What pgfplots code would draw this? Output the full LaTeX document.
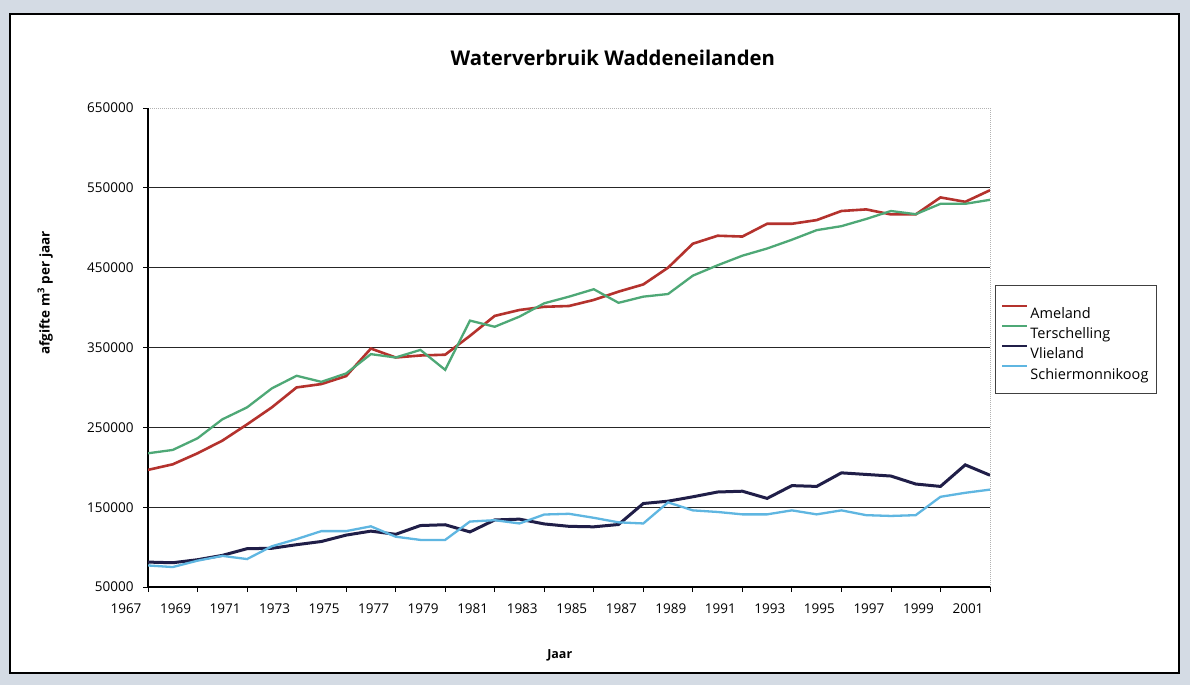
\documentclass[border=0pt]{standalone}
\usepackage{fontspec}
\setmainfont{Open Sans}
\usepackage{pgfplots}
\usepackage{pgfplotstable}
\pgfplotsset{compat=1.18}
\definecolor{ameland}{RGB}{180,50,45}
\definecolor{tersch}{RGB}{78,168,118}
\definecolor{vlie}{RGB}{32,30,72}
\definecolor{schier}{RGB}{95,182,225}
\definecolor{scanbg}{RGB}{212,219,228}

\pgfplotstableread{
year ameland tersch vlie schier
1968 196700 217500 81200 77000
1969 203700 221700 80400 75000
1970 217500 236300 84200 83000
1971 233300 260000 89600 89000
1972 253700 275000 98000 85000
1973 275000 298800 98500 101000
1974 300000 314600 103000 110000
1975 304200 307000 107000 120000
1976 314200 317500 115000 120000
1977 348700 341700 120000 126000
1978 337500 337500 116000 113000
1979 340000 347000 127000 109000
1980 341000 322000 128000 109000
1981 364600 383700 119000 132000
1982 389600 376000 134000 133700
1983 397000 388700 135000 129600
1984 401000 405400 129000 140800
1985 402000 413700 126000 141700
1986 409600 423000 125400 136700
1987 420000 406000 128300 131000
1988 429000 413700 154600 129600
1989 450000 417000 157500 156000
1990 480000 440000 163000 146000
1991 490000 453000 169000 144000
1992 489000 465000 170000 141000
1993 505000 474000 161000 141000
1994 505000 485000 177000 146000
1995 509600 497000 176000 141000
1996 521000 502000 193000 146000
1997 523000 511000 191000 140000
1998 516700 521000 189000 139000
1999 516700 517000 179000 140000
2000 538000 530000 176000 163000
2001 532500 530000 203000 168000
2002 547000 535000 190000 172000
}\datatable

\begin{document}
\begin{tikzpicture}
\fill[scanbg] (0pt,0pt) rectangle (1190pt,-685pt);
\filldraw[fill=white,draw=black,line width=2pt] (10pt,-14pt) rectangle (1179pt,-673pt);
\begin{axis}[
  at={(148pt,-587pt)}, anchor=south west,
  width=842pt, height=479pt, scale only axis,
  xmin=1968, xmax=2002, ymin=50000, ymax=650000,
  axis lines=left,
  axis line style={-, black, line width=1.2pt},
  axis background/.style={draw=gray!60, line width=1pt, densely dotted},
  ytick={50000,150000,250000,350000,450000,550000,650000},
  scaled y ticks=false,
  yticklabel style={/pgf/number format/fixed, /pgf/number format/1000 sep={}, xshift=-6pt},
  /pgf/number format/assume math mode=true,
  extra y ticks={150000,250000,350000,450000,550000},
  extra y tick labels={},
  extra y tick style={grid=major, major tick length=0pt},
  major grid style={black!85, line width=1.1pt},
  xtick={1968,1970,...,2002},
  xticklabels={1967,1969,1971,1973,1975,1977,1979,1981,1983,1985,1987,1989,1991,1993,1995,1997,1999,2001},
  xticklabel style={xshift=-22pt, yshift=-8pt},
  minor x tick num=1,
  tick align=outside,
  major tick length=5pt, minor tick length=3pt,
  tick style={black, line width=0.8pt},
  ticklabel style={font=\fontsize{13.5}{16}\selectfont},
  title={\bfseries Waterverbruik Waddeneilanden},
  title style={at={(axis description cs:0.552,1.092)}, anchor=center, font=\fontsize{20.3}{24}\selectfont},
  ylabel={\bfseries afgifte m\textsuperscript{3} per jaar},
  ylabel style={at={(axis description cs:-0.122,0.614)}, anchor=center, rotate=0, font=\fontsize{13.5}{16}\selectfont},
  xlabel={\bfseries Jaar},
  xlabel style={at={(axis description cs:0.489,-0.142)}, anchor=center, font=\fontsize{12.5}{15}\selectfont},
  legend style={at={(axis description cs:1.006,0.630)}, anchor=north west, draw=black!75, line width=0.8pt,
    font=\fontsize{14.5}{17}\selectfont, inner xsep=6pt, inner ysep=11pt, row sep=-5pt},
  legend cell align=left,
  legend image code/.code={\path[draw=none,fill=none] (0pt,-8pt) rectangle (25pt,17pt); \draw[#1, line width=2pt] (0pt,8pt) -- (25pt,8pt);},
]
\addplot[ameland, line width=2.6pt] table[x=year, y=ameland] {\datatable};
\addlegendentry{Ameland}
\addplot[tersch, line width=2.3pt] table[x=year, y=tersch] {\datatable};
\addlegendentry{Terschelling}
\addplot[vlie, line width=3pt] table[x=year, y=vlie] {\datatable};
\addlegendentry{Vlieland}
\addplot[schier, line width=2.3pt] table[x=year, y=schier] {\datatable};
\addlegendentry{Schiermonnikoog}
\end{axis}
\end{tikzpicture}
\end{document}
